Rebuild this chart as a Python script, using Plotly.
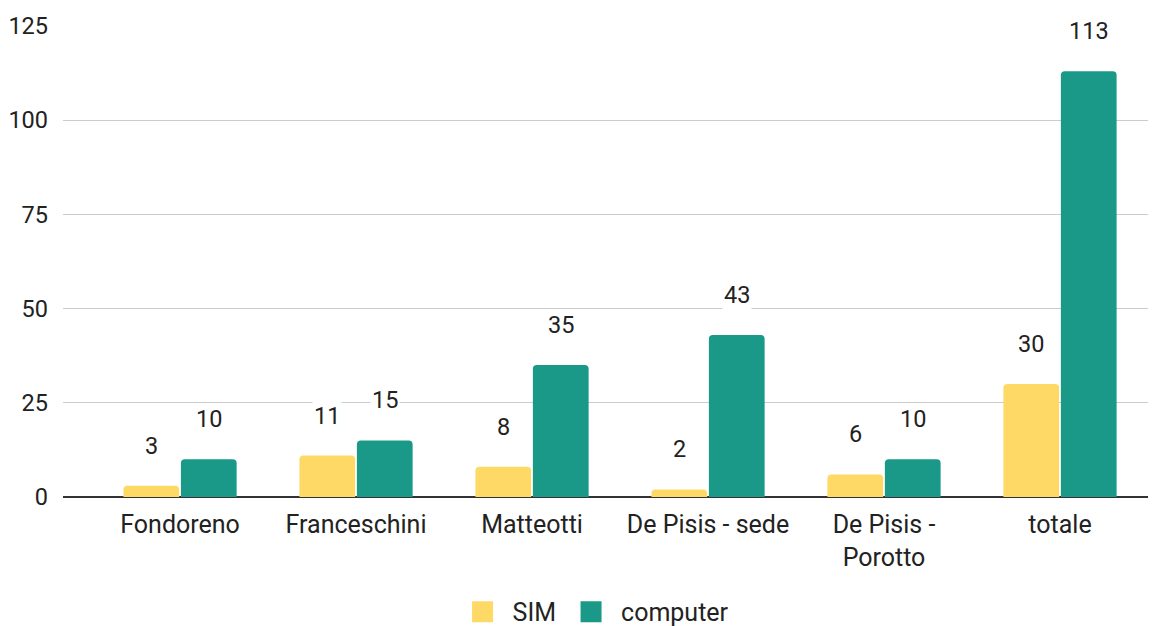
import plotly.graph_objects as go

categories = ["Fondoreno", "Franceschini", "Matteotti", "De Pisis - sede", "De Pisis -<br>Porotto", "totale"]
sim = [3, 11, 8, 2, 6, 30]
computer = [10, 15, 35, 43, 10, 113]
y_ticks = [0, 25, 50, 75, 100, 125]

SIM_COLOR = "#FFD966"
COMP_COLOR = "#1B9988"
FONT = "Roboto"
FS = 24
TXT = "#222222"

fig = go.Figure()
for name, vals, col in (("SIM", sim, SIM_COLOR), ("computer", computer, COMP_COLOR)):
    fig.add_trace(go.Bar(x=categories, y=vals, name=name, legendgroup=name, showlegend=False,
                         marker=dict(color=col, cornerradius=4, line=dict(width=0))))
for name, col in (("SIM", SIM_COLOR), ("computer", COMP_COLOR)):
    fig.add_trace(go.Scatter(x=[None], y=[None], mode="markers", name=name, legendgroup=name,
                             marker=dict(symbol="square", size=16, color=col,
                                         line=dict(color=col, width=5))))

for series, shift in ((sim, -29), (computer, 29)):
    for c, v in zip(categories, series):
        fig.add_annotation(x=c, y=v, text=str(v), showarrow=False, xshift=shift, yshift=40,
                           yanchor="middle", bgcolor="white", borderpad=1,
                           font=dict(family=FONT, size=23.5, color=TXT))

fig.update_layout(
    width=1158, height=618,
    margin=dict(l=55, r=18, t=18, b=129, autoexpand=False),
    paper_bgcolor="white", plot_bgcolor="white",
    barmode="group", bargap=0.347, bargroupgap=0.03,
    font=dict(family=FONT, size=FS, color=TXT),
    showlegend=True,
    legend=dict(orientation="h", x=0.489, xanchor="center", y=-0.244, yanchor="middle",
                font=dict(family=FONT, size=25, color=TXT), itemsizing="trace", itemwidth=50),
    xaxis=dict(type="category", range=[-0.665, 5.5], showgrid=False, showline=False, ticks="",
               tickfont=dict(family=FONT, size=25, color=TXT), zeroline=False, automargin=False,
               ticklabelstandoff=10),
    yaxis=dict(range=[0, 125], tickvals=y_ticks, showgrid=True, gridcolor="#CCCCCC", gridwidth=1,
               zeroline=True, zerolinecolor="#333333", zerolinewidth=2, ticks="", ticklabelstandoff=14,
               automargin=False, tickfont=dict(family=FONT, size=23.5, color=TXT)),
)

fig.write_html("out.html")
